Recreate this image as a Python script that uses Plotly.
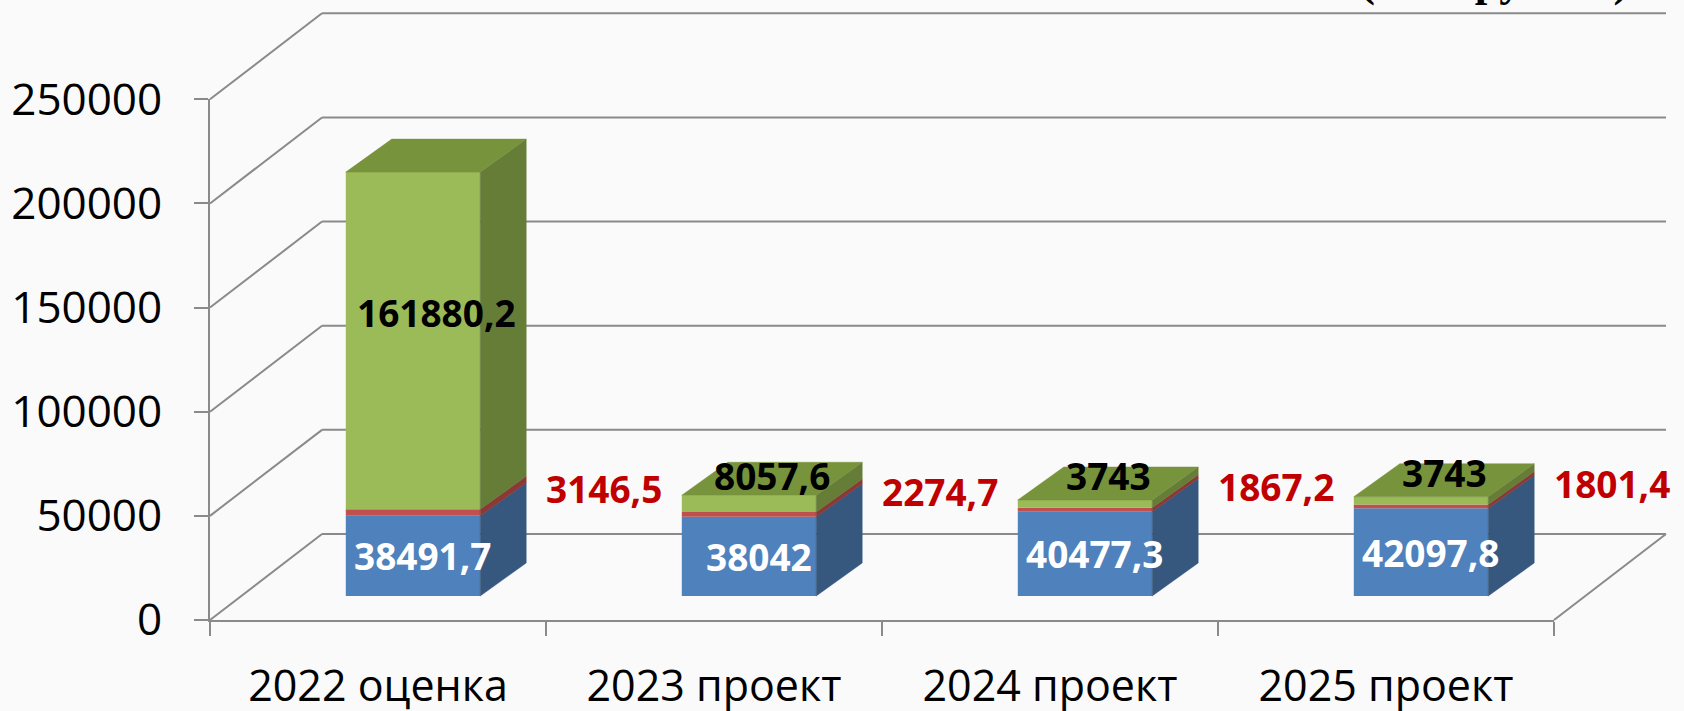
import plotly.graph_objects as go

# ---------------- data ----------------
categories = ["2022 оценка", "2023 проект", "2024 проект", "2025 проект"]
series_names = ["Серия 1", "Серия 2", "Серия 3"]
blue_vals = [38491.7, 38042.0, 40477.3, 42097.8]
red_vals = [3146.5, 2274.7, 1867.2, 1801.4]
green_vals = [161880.2, 8057.6, 3743.0, 3743.0]
blue_text = ["38491,7", "38042", "40477,3", "42097,8"]
red_text = ["3146,5", "2274,7", "1867,2", "1801,4"]
green_text = ["161880,2", "8057,6", "3743", "3743"]
y_ticks = [0, 50000, 100000, 150000, 200000, 250000]
y_ticktext = ["0", "50000", "100000", "150000", "200000", "250000"]
unit_text = "(тыс. рублей)"

# ---------------- geometry / style ----------------
W, H = 1684, 711
AXIS_X_PX = 210.0
CAT_PX = 336.0
ZERO_Y_PX = 620.0
TOP_Y_PX = 99.3
Y_MAX = 250000
PX_PER_VAL = (ZERO_Y_PX - TOP_Y_PX) / Y_MAX

FLOOR_DX, FLOOR_DY = 112.0, 86.0      # depth of floor / side wall (px)
BAR_SHIFT_X, BAR_SHIFT_Y = 35.0, 24.0  # bar front face offset into depth (px)
BAR_DX, BAR_DY = 46.0, 33.0           # bar depth (px)
BAR_W = 0.4                           # bar width in category units

GRID = "#8a8a8a"
FONT = "Open Sans"
front_cols = ["#4F81BD", "#C0504D", "#9BBB59"]
side_cols = ["#36587F", "#8B3836", "#657D37"]
top_col = "#77933C"


def cx(px):
    return px / CAT_PX


def vy(px):
    return px / PX_PER_VAL


x_range = [(0 - AXIS_X_PX) / CAT_PX - 0.5, (W - AXIS_X_PX) / CAT_PX - 0.5]
y_range = [(ZERO_Y_PX - H) / PX_PER_VAL, ZERO_Y_PX / PX_PER_VAL]

fdx, fdy = cx(FLOOR_DX), vy(FLOOR_DY)
bsx, bsy = cx(BAR_SHIFT_X), vy(BAR_SHIFT_Y)
bdx, bdy = cx(BAR_DX), vy(BAR_DY)
n = len(categories)
left_edge, right_edge = -0.5, n - 0.5

fig = go.Figure()

# ---------- walls / grid (shapes below traces) ----------
shapes = []
line_style = dict(color=GRID, width=2)
for v in y_ticks:
    shapes.append(dict(type="line", xref="x", yref="y", layer="below",
                       x0=left_edge, y0=v, x1=left_edge + fdx, y1=v + fdy, line=line_style))
    shapes.append(dict(type="line", xref="x", yref="y", layer="below",
                       x0=left_edge + fdx, y0=v + fdy, x1=right_edge + fdx, y1=v + fdy,
                       line=line_style))
shapes.append(dict(type="line", xref="x", yref="y", layer="below",
                   x0=right_edge, y0=0, x1=right_edge + fdx, y1=fdy, line=line_style))

# ---------- bars ----------
all_vals = [blue_vals, red_vals, green_vals]
bases = [[0.0] * n]
for s in range(1, 3):
    bases.append([bases[s - 1][i] + all_vals[s - 1][i] for i in range(n)])

xs_front = [i + bsx for i in range(n)]
for s in range(3):
    fig.add_trace(go.Bar(
        x=xs_front, y=all_vals[s], base=[b + bsy for b in bases[s]],
        width=BAR_W, marker=dict(color=front_cols[s], line=dict(width=0)),
        name=series_names[s], showlegend=False, hoverinfo="skip"))

for s in range(3):
    px_, py_ = [], []
    for i in range(n):
        xr = xs_front[i] + BAR_W / 2
        b = bases[s][i] + bsy
        t = b + all_vals[s][i]
        px_ += [xr, xr + bdx, xr + bdx, xr, xr, None]
        py_ += [b, b + bdy, t + bdy, t, b, None]
    fig.add_trace(go.Scatter(x=px_, y=py_, mode="lines", fill="toself",
                             fillcolor=side_cols[s], line=dict(color=side_cols[s], width=0.5),
                             showlegend=False, hoverinfo="skip"))

# top faces
px_, py_ = [], []
for i in range(n):
    xl = xs_front[i] - BAR_W / 2
    xr = xs_front[i] + BAR_W / 2
    T = bases[2][i] + green_vals[i] + bsy
    px_ += [xl, xr, xr + bdx, xl + bdx, xl, None]
    py_ += [T, T, T + bdy, T + bdy, T, None]
fig.add_trace(go.Scatter(x=px_, y=py_, mode="lines", fill="toself",
                         fillcolor=top_col, line=dict(color=top_col, width=0.5),
                         showlegend=False, hoverinfo="skip"))

# ---------- axes (front) on x2/y2 ----------
fig.add_trace(go.Scatter(x=categories, y=[0] * n, xaxis="x2", yaxis="y2", mode="markers",
                         marker=dict(opacity=0), showlegend=False, hoverinfo="skip"))

# ---------- data labels ----------
ann = []
lab_font = dict(family=FONT, size=37)
for i in range(n):
    ann.append(dict(x=xs_front[i] + cx(10), y=bsy + bases[0][i] + blue_vals[i] / 2,
                    text=blue_text[i], showarrow=False, xref="x", yref="y",
                    font=dict(lab_font, color="white", weight="bold")))
    ann.append(dict(x=xs_front[i] + bdx / 2, y=bsy + bases[2][i] + green_vals[i] / 2 + bdy / 2,
                    yshift=12, text=green_text[i], showarrow=False, xref="x", yref="y",
                    font=dict(lab_font, color="black", weight="bold")))
    ann.append(dict(x=xs_front[i] + BAR_W / 2 + bdx, xshift=78,
                    y=bsy + bases[2][i] + bdy, yshift=-12,
                    text=red_text[i], showarrow=False, xref="x", yref="y",
                    font=dict(lab_font, color="#C00000", weight="bold")))

ann.append(dict(x=1494 / W, y=1, xref="paper", yref="paper", xanchor="center",
                yanchor="bottom", yshift=-8, text=unit_text, showarrow=False,
                font=dict(family="Liberation Serif", size=45, color="black", weight="bold")))

tick_font = dict(family=FONT, size=44, color="black")
fig.update_layout(
    width=W, height=H,
    margin=dict(l=0, r=0, t=0, b=0, pad=0),
    paper_bgcolor="#fafafa", plot_bgcolor="rgba(0,0,0,0)",
    barmode="overlay", showlegend=False, hovermode=False,
    shapes=shapes, annotations=ann,
    xaxis=dict(domain=[0, 1], range=x_range, visible=False, fixedrange=True),
    yaxis=dict(domain=[0, 1], range=y_range, visible=False, fixedrange=True),
    xaxis2=dict(domain=[AXIS_X_PX / W, (AXIS_X_PX + n * CAT_PX) / W], anchor="y2",
                type="category", range=[-0.5, n - 0.5], showline=True, linecolor=GRID,
                linewidth=2, ticks="outside", tickson="boundaries", ticklen=14,
                tickwidth=2, tickcolor=GRID, showgrid=False, zeroline=False,
                tickfont=dict(tick_font, size=43), ticklabelstandoff=27,
                automargin=False, fixedrange=True),
    yaxis2=dict(domain=[(H - ZERO_Y_PX) / H, (H - TOP_Y_PX) / H], anchor="x2",
                range=[0, Y_MAX], tickvals=y_ticks, ticktext=y_ticktext,
                showline=True, linecolor=GRID, linewidth=2, ticks="outside", ticklen=14,
                tickwidth=2, tickcolor=GRID, showgrid=False, zeroline=False,
                tickfont=tick_font, ticklabelstandoff=23, automargin=False, fixedrange=True),
)

fig.write_html("out.html", config={"displayModeBar": False},
               post_script="document.body.style.margin='0px';"
                           "document.body.style.overflow='hidden';")
